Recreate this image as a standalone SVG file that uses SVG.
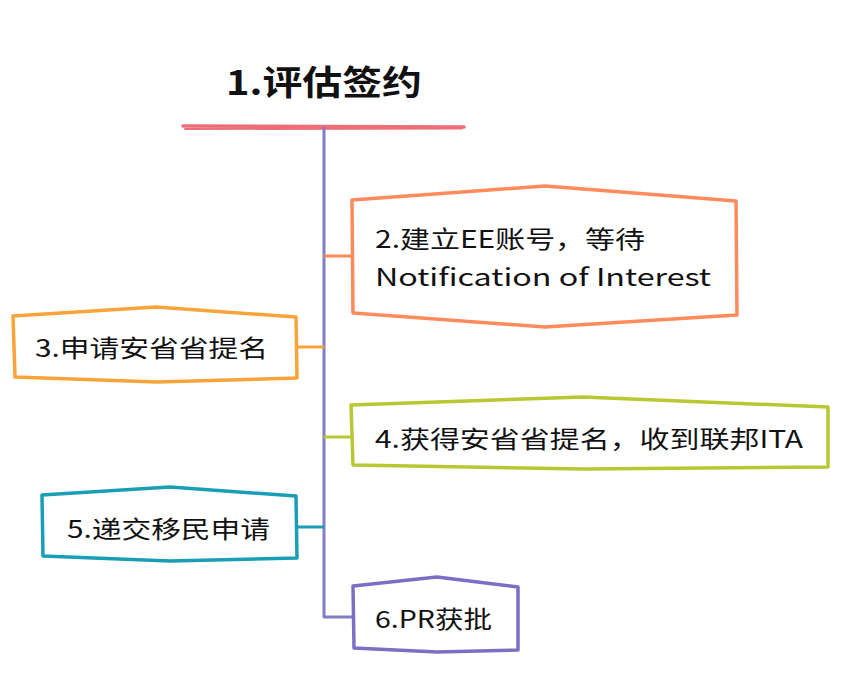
<svg xmlns="http://www.w3.org/2000/svg" width="857" height="695" viewBox="0 0 857 695">
<style>
.t{font-family:"Noto Sans CJK SC","Noto Sans",sans-serif;font-size:24px;fill:#111}
.title{font-family:"Noto Sans CJK SC","Noto Sans",sans-serif;font-size:34px;font-weight:bold;fill:#111}
.box{fill:#fff;stroke-width:3.5;stroke-linejoin:round;stroke-linecap:round}
.c{fill:none;stroke-width:3;stroke-linecap:round;stroke-linejoin:round}
</style>
<rect width="857" height="695" fill="#fff"/>
<g id="title">
<text class="title" x="226" y="95" textLength="196" lengthAdjust="spacingAndGlyphs">1.评估签约</text>
<path d="M183,126 L464,127" stroke="#EE6E78" stroke-width="3.5" fill="none" stroke-linecap="round"/>
<path d="M185,129 L462,128.5" stroke="#EE6E78" stroke-width="2" fill="none" stroke-linecap="round"/>
</g>
<g id="connectors">
<path class="c" stroke="#7F7FC6" d="M324,128 L324,617 L353,617"/>
<path class="c" stroke="#FF8A5B" d="M325,256 L352,256"/>
<path class="c" stroke="#F9A43A" d="M298,347 L323,347"/>
<path class="c" stroke="#B8C832" d="M325,437 L352,437"/>
<path class="c" stroke="#1A9EB5" d="M297,527 L323,527"/>
</g>
<g id="node2">
<path class="box" stroke="#FF8A5B" d="M352,200 L545,186 L736,201 L737,315 L545,327 L353,313 Z"/>
<text class="t" x="375" y="248" textLength="270" lengthAdjust="spacingAndGlyphs">2.建立EE账号，等待</text>
<text class="t" x="375" y="286" textLength="336" lengthAdjust="spacingAndGlyphs">Notification of Interest</text>
</g>
<g id="node3">
<path class="box" stroke="#F9A43A" d="M13,316 L156,307 L296,317 L297,378 L157,382 L15,377 Z"/>
<text class="t" x="35" y="357" textLength="233" lengthAdjust="spacingAndGlyphs">3.申请安省省提名</text>
</g>
<g id="node4">
<path class="box" stroke="#B8C832" d="M351,405 L583,397 L828,407 L828,467 L583,469 L353,465 Z"/>
<text class="t" x="375" y="448" textLength="428" lengthAdjust="spacingAndGlyphs">4.获得安省省提名，收到联邦ITA</text>
</g>
<g id="node5">
<path class="box" stroke="#1A9EB5" d="M42,495 L170,487 L296,496 L297,558 L170,561 L43,556 Z"/>
<text class="t" x="67" y="538" textLength="203" lengthAdjust="spacingAndGlyphs">5.递交移民申请</text>
</g>
<g id="node6">
<path class="box" stroke="#7A6FC4" d="M353,586 L437,577 L518,587 L518,650 L437,652 L354,648 Z"/>
<text class="t" x="375" y="628" textLength="117" lengthAdjust="spacingAndGlyphs">6.PR获批</text>
</g>
</svg>
